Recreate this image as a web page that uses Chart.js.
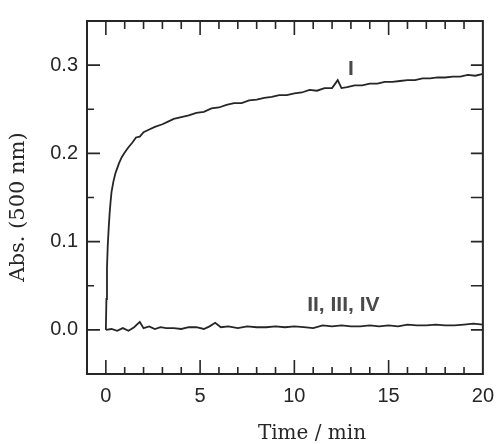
<!DOCTYPE html>
<html>
<head>
<meta charset="utf-8">
<script src="https://cdn.jsdelivr.net/npm/chart.js@4/dist/chart.umd.min.js"></script>
<style>
  html, body { margin: 0; padding: 0; background: #fff; }
  #wrap { width: 504px; height: 444px; }
</style>
</head>
<body>
<div id="wrap"><canvas id="abs-chart"></canvas></div>
<script>
// curve I
const timeI = [0, 0.03, 0.06, 0.1, 0.15, 0.2, 0.25, 0.3, 0.4, 0.5, 0.6, 0.7, 0.85, 1.0, 1.2, 1.4, 1.6, 1.8, 2.0, 2.3,
  2.6, 3.0, 3.3, 3.6, 4.0, 4.4, 4.8, 5.2, 5.6, 6.0, 6.4, 6.8, 7.2, 7.6, 8.0, 8.4, 8.8, 9.2, 9.6, 10.0,
  10.4, 10.8, 11.2, 11.6, 12.0, 12.3, 12.5, 12.8, 13.2, 13.6, 14.0, 14.4, 14.8, 15.2, 15.6, 16.0, 16.4, 16.8, 17.2, 17.6,
  18.0, 18.4, 18.8, 19.2, 19.6, 20.0];
const absI = [0, 0.035, 0.07, 0.095, 0.115, 0.132, 0.145, 0.156, 0.168, 0.177, 0.183, 0.189, 0.196, 0.201, 0.207, 0.212, 0.218, 0.219, 0.224, 0.227,
  0.230, 0.233, 0.236, 0.239, 0.241, 0.243, 0.246, 0.247, 0.251, 0.252, 0.255, 0.257, 0.257, 0.260, 0.261, 0.263, 0.264, 0.266, 0.266, 0.268,
  0.269, 0.272, 0.271, 0.274, 0.274, 0.283, 0.274, 0.275, 0.277, 0.277, 0.279, 0.279, 0.281, 0.281, 0.282, 0.283, 0.283, 0.285, 0.285, 0.286,
  0.286, 0.287, 0.287, 0.289, 0.288, 0.290];

// curves II, III, IV (baseline)
const timeBase = [0, 0.3, 0.6, 0.9, 1.2, 1.5, 1.8, 2.0, 2.3, 2.6, 2.9, 3.2, 3.6, 4.0, 4.4, 4.8, 5.2, 5.5, 5.8, 6.1,
  6.5, 7.0, 7.5, 8.0, 8.5, 9.0, 9.5, 10.0, 10.5, 11.0, 11.5, 12.0, 12.5, 13.0, 13.5, 14.0, 14.5, 15.0, 15.5, 16.0,
  16.5, 17.0, 17.5, 18.0, 18.5, 19.0, 19.5, 20.0];
const absBase = [0.0, 0.001, -0.001, 0.002, -0.001, 0.003, 0.009, 0.002, 0.004, 0.001, 0.003, 0.002, 0.002, 0.001, 0.003, 0.003, 0.001, 0.004, 0.008, 0.003,
  0.004, 0.002, 0.004, 0.003, 0.003, 0.004, 0.003, 0.004, 0.003, 0.002, 0.005, 0.004, 0.005, 0.004, 0.004, 0.005, 0.004, 0.005, 0.004, 0.006,
  0.005, 0.005, 0.006, 0.005, 0.005, 0.006, 0.007, 0.006];

const xTicks = [0, 5, 10, 15, 20];
const yTicks = [0.0, 0.1, 0.2, 0.3];

const curveLabels = [
  { text: 'I', x: 13.0, y: 0.295 },
  { text: 'II, III, IV', x: 12.6, y: 0.028 }
];

const INK = '#262626';

// frame, inward ticks, axis titles and curve labels
const framePlugin = {
  id: 'frame',
  afterDraw(chart) {
    const { ctx, chartArea: a, scales: { x, y } } = chart;
    ctx.save();
    ctx.strokeStyle = INK;
    ctx.lineWidth = 2;
    ctx.strokeRect(a.left, a.top, a.right - a.left, a.bottom - a.top);

    ctx.lineWidth = 1.6;
    ctx.beginPath();
    for (let t = 0; t < 20; t++) {
      const px = x.getPixelForValue(t);
      const major = t % 5 === 0;
      ctx.moveTo(px, a.bottom); ctx.lineTo(px, a.bottom - (major ? 14 : 7));
      ctx.moveTo(px, a.top); ctx.lineTo(px, a.top + (major ? 14 : 8));
    }
    for (let i = 0; i <= 6; i++) {
      const v = i * 0.05;
      const py = y.getPixelForValue(v);
      const major = i % 2 === 0;
      ctx.moveTo(a.left, py); ctx.lineTo(a.left + (major ? 13 : 7), py);
      ctx.moveTo(a.right, py); ctx.lineTo(a.right - 12, py);
    }
    ctx.stroke();

    // axis titles
    ctx.fillStyle = INK;
    ctx.font = '20px "DejaVu Serif"';
    ctx.textAlign = 'center';
    ctx.textBaseline = 'middle';
    ctx.fillText('Time / min', 312, 434);
    ctx.save();
    ctx.translate(19, 207);
    ctx.rotate(-Math.PI / 2);
    ctx.font = '21px "DejaVu Serif"';
    ctx.fillText('Abs. (500 nm)', 0, 0);
    ctx.restore();

    // curve labels
    ctx.fillStyle = '#4a4a4a';
    ctx.font = 'bold 21px "Liberation Sans"';
    curveLabels.forEach(l => {
      ctx.fillText(l.text, x.getPixelForValue(l.x), y.getPixelForValue(l.y));
    });
    ctx.restore();
  }
};

new Chart(document.getElementById('abs-chart').getContext('2d'), {
  type: 'line',
  data: {
    datasets: [
      { label: 'I', data: timeI.map((t, i) => ({ x: t, y: absI[i] })), borderColor: INK, borderWidth: 1.8, pointRadius: 0, tension: 0 },
      { label: 'II, III, IV', data: timeBase.map((t, i) => ({ x: t, y: absBase[i] })), borderColor: INK, borderWidth: 1.8, pointRadius: 0, tension: 0 }
    ]
  },
  options: {
    responsive: true,
    maintainAspectRatio: false,
    animation: false,
    layout: { padding: { left: 0, right: 12, top: 17, bottom: 0 } },
    plugins: { legend: { display: false }, tooltip: { enabled: false } },
    scales: {
      x: {
        type: 'linear', min: -1, max: 20,
        afterBuildTicks: s => { s.ticks = xTicks.map(v => ({ value: v })); },
        afterFit: s => { s.height = 70; },
        grid: { display: false, drawTicks: false },
        border: { display: false },
        ticks: { color: INK, padding: 10, maxRotation: 0, font: { family: 'Liberation Sans', size: 20 }, callback: v => v }
      },
      y: {
        type: 'linear', min: -0.05, max: 0.35,
        afterBuildTicks: s => { s.ticks = yTicks.map(v => ({ value: v })); },
        afterFit: s => { s.width = 87; },
        grid: { display: false, drawTicks: false },
        border: { display: false },
        ticks: { color: INK, padding: 9, font: { family: 'Liberation Sans', size: 20 }, callback: v => v.toFixed(1) }
      }
    }
  },
  plugins: [framePlugin]
});
</script>
</body>
</html>
